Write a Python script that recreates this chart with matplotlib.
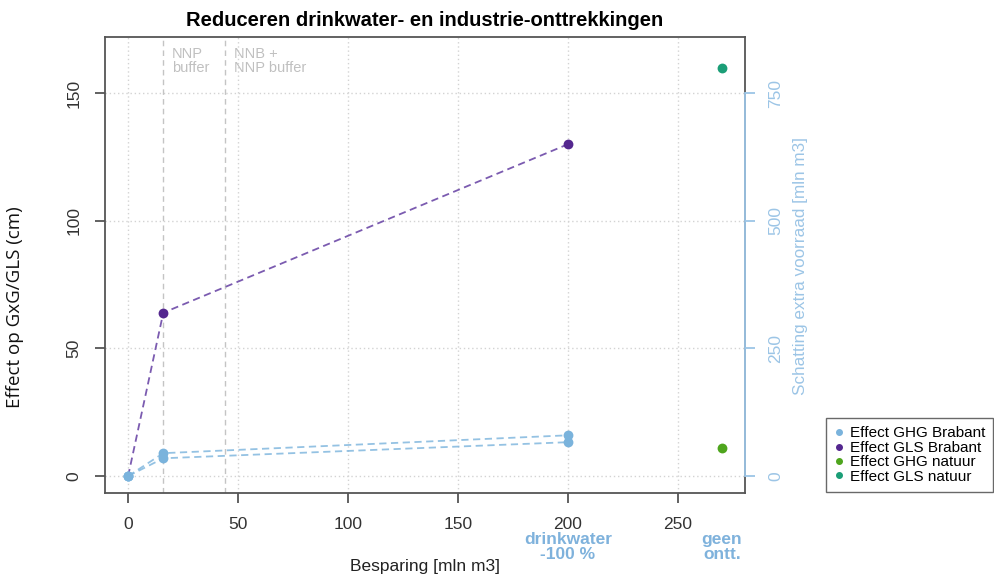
import matplotlib
matplotlib.use("Agg")
import matplotlib.pyplot as plt
from matplotlib.lines import Line2D

plt.rcParams['font.family'] = ['Liberation Sans', 'DejaVu Sans']

# Data
besparing = [0, 16, 200]
gls_brabant = [0, 64, 130]
ghg_brabant = [0, 9, 16]
ghg_brabant_b = [0, 7, 13.3]
natuur_x = 270
ghg_natuur = 11
gls_natuur = 160
scenario_lines = [16, 44]
scenario_labels = ["NNP\nbuffer", "NNB +\nNNP buffer"]
extra_xlabels = {200: "drinkwater\n-100 %", 270: "geen\nontt."}
xticks = [0, 50, 100, 150, 200, 250]
yticks = [0, 50, 100, 150]
right_ticks = [0, 250, 500, 750]
legend_labels = ["Effect GHG Brabant", "Effect GLS Brabant", "Effect GHG natuur", "Effect GLS natuur"]

c_ghg = "#7ab3dc"
c_gls = "#54278f"
c_ghgn = "#4ea51d"
c_glsn = "#1b9e77"
c_axis_r = "#9cc5e6"

W, H = 994, 578
fig = plt.figure(figsize=(W/100, H/100), dpi=100)
ax = fig.add_axes([105/W, 1-493/H, (745-105)/W, (493-37)/H])
ax.set_xlim(-10.5, 280.5)
ax.set_ylim(-6.6, 172)

for x in xticks:
    ax.axvline(x, color="#d3d3d3", ls=(0, (1, 2)), lw=1, zorder=0)
for y in yticks:
    ax.axhline(y, color="#d3d3d3", ls=(0, (1, 2)), lw=1, zorder=0)
for x, lab in zip(scenario_lines, scenario_labels):
    ax.axvline(x, color="#c4c4c4", ls=(0, (4, 3)), lw=1, zorder=1)
    ax.text(x + 4, 168, lab, color="#c0c0c0", fontsize=10.5, va="top", ha="left", linespacing=0.95)

ax.plot(besparing, ghg_brabant_b, ls=(0, (4, 2.5)), color=c_ghg, lw=1.3, alpha=0.8, zorder=2)
ax.plot(besparing, ghg_brabant, ls=(0, (4, 2.5)), color=c_ghg, lw=1.3, alpha=0.8, zorder=2)
ax.plot(besparing, gls_brabant, ls=(0, (4, 2.5)), color="#7b5bb0", lw=1.3, zorder=2)
ax.scatter(besparing, ghg_brabant_b, s=50, color=c_ghg, zorder=3, lw=0)
ax.scatter(besparing, ghg_brabant, s=50, color=c_ghg, zorder=3, lw=0)
ax.scatter(besparing[1:], gls_brabant[1:], s=50, color=c_gls, zorder=3, lw=0)
ax.scatter([besparing[0]], [0], s=50, color=c_ghg, zorder=4, lw=0)
ax.scatter([natuur_x], [ghg_natuur], s=50, color=c_ghgn, zorder=3, lw=0)
ax.scatter([natuur_x], [gls_natuur], s=50, color=c_glsn, zorder=3, lw=0)

for s in ax.spines.values():
    s.set_color("#555555")
    s.set_linewidth(1.3)
ax.set_xticks(xticks)
ax.set_yticks(yticks)
ax.tick_params(axis="both", colors="#555555", labelcolor="#333333", labelsize=12.5,
               length=7, width=1.3, pad=10)
ax.tick_params(axis="y", labelrotation=90)
for lab in ax.get_yticklabels():
    lab.set_va("center")

for x, lab in extra_xlabels.items():
    ax.text(x, -0.086, lab, transform=ax.get_xaxis_transform(), ha="center", va="top",
            color="#7fb2dc", fontsize=12.5, fontweight="bold", linespacing=1.0)

ax.set_title("Reduceren drinkwater- en industrie-onttrekkingen", fontsize=14.5, fontweight="bold", pad=8)
fig.text(425/W, 1-566/H, "Besparing [mln m3]", ha="center", va="center", fontsize=12.5, color="#222222")
fig.text(15/W, 1-307/H, "Effect op GxG/GLS (cm)", rotation=90, va="center", ha="center",
         fontsize=13.5, family="Open Sans", color="#111111")

# right axis
ax2 = ax.twinx()
ax2.set_ylim(ax.get_ylim()[0]*5, ax.get_ylim()[1]*5)
ax2.set_yticks(right_ticks)
for k, s in ax2.spines.items():
    s.set_visible(k == "right")
ax2.spines["right"].set_color(c_axis_r)
ax2.spines["right"].set_bounds(0, 750)
ax2.spines["right"].set_linewidth(1.3)
ax2.tick_params(axis="y", colors=c_axis_r, labelcolor=c_axis_r, labelsize=12.5, length=7,
                width=1.3, labelrotation=90, pad=10)
for lab in ax2.get_yticklabels():
    lab.set_va("center")
fig.text(800/W, 1-266/H, "Schatting extra voorraad [mln m3]", rotation=90, va="center", ha="center",
         color=c_axis_r, fontsize=12.3)

handles = [Line2D([], [], marker="o", ls="", color=c, markersize=4)
           for c in [c_ghg, c_gls, c_ghgn, c_glsn]]
leg = fig.legend(handles, legend_labels, loc="upper left", bbox_to_anchor=(826/W, 1-418/H),
                 frameon=True, fancybox=False, edgecolor="#444444", fontsize=11,
                 handlelength=0.6, handletextpad=0.4, labelspacing=0.03, borderpad=0.55,
                 borderaxespad=0)
leg.get_frame().set_linewidth(1.0)

fig.savefig("out.png", dpi=100)
